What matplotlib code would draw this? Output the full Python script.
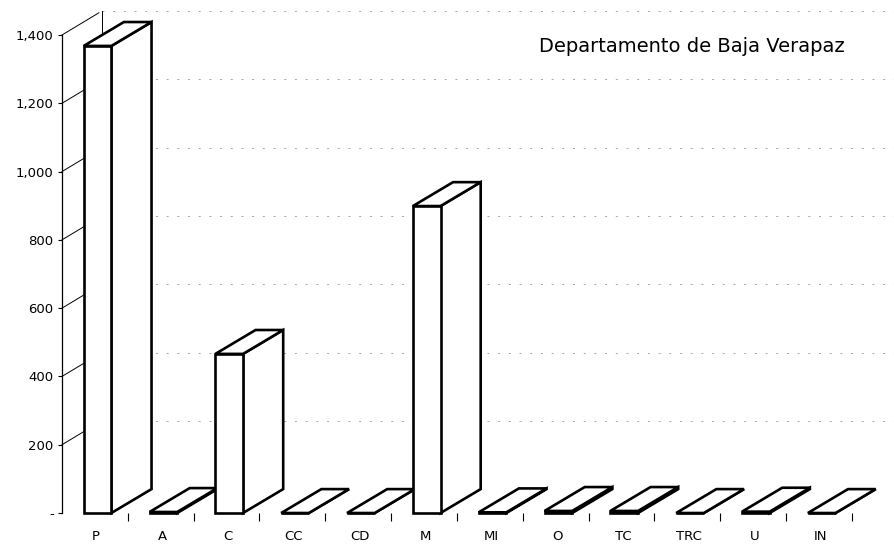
import matplotlib
matplotlib.use("Agg")
import matplotlib.pyplot as plt
from matplotlib.patches import Polygon

categories = ["P", "A", "C", "CC", "CD", "M", "MI", "O", "TC", "TRC", "U", "IN"]
values = [1368, 3, 466, 0, 0, 899, 2, 6, 6, 0, 4, 0]
y_ticks = [0, 200, 400, 600, 800, 1000, 1200, 1400]
y_labels = ["-", "200", "400", "600", "800", "1,000", "1,200", "1,400"]
title = "Departamento de Baja Verapaz"

# oblique depth offset (category units, value units)
DX, DY = 0.61, 70
BAR_L, BAR_R = 0.33, 0.75

plt.rcParams["font.family"] = ["DejaVu Sans"]
fig = plt.figure(figsize=(8.95, 5.49), dpi=100)
ax = fig.add_axes([62 / 895, 36 / 549, 790 / 895, 478 / 549])
ax.set_xlim(0, 12)
ax.set_ylim(0, 1400)

for s in ["top", "right", "bottom"]:
    ax.spines[s].set_visible(False)
ax.spines["left"].set_linewidth(0.9)
ax.spines["left"].set_bounds(0, 1400)

ax.set_yticks(y_ticks)
ax.set_yticklabels(y_labels, fontsize=9.5)
ax.tick_params(axis="y", length=3, width=0.8, pad=3)

ax.set_xticks([i + 0.52 for i in range(len(categories))])
ax.set_xticklabels(categories, fontsize=9.5)
ax.tick_params(axis="x", length=0, pad=12)
ax.set_xticks(range(1, 13), minor=True)
ax.tick_params(axis="x", which="minor", length=6, width=0.8, pad=0)

# back wall gridlines, back axis and depth connectors
for v in y_ticks[1:]:
    ax.plot([DX, 13.2], [v + DY, v + DY], color="0.65", lw=0.7,
            linestyle=(0, (2, 9)), clip_on=False, zorder=1)
    ax.plot([0, DX - 0.05], [v, v + DY - 5], color="black", lw=0.7,
            clip_on=False, zorder=1)
ax.plot([DX, DX], [DY, 1400 + DY], color="black", lw=0.7, clip_on=False, zorder=1)

# bars
for i, v in enumerate(values):
    x0, x1 = i + BAR_L, i + BAR_R
    faces = [
        [(x1, 0), (x1 + DX, DY), (x1 + DX, v + DY), (x1, v)],
        [(x0, v), (x1, v), (x1 + DX, v + DY), (x0 + DX, v + DY)],
        [(x0, 0), (x1, 0), (x1, v), (x0, v)],
    ]
    for f in faces:
        ax.add_patch(Polygon(f, closed=True, facecolor="white", edgecolor="black",
                             lw=1.9, joinstyle="miter", clip_on=False, zorder=3 + i))

fig.text(692 / 895, 1 - 47 / 549, title, fontsize=14, ha="center", va="center")

fig.savefig("out.png", dpi=100)
